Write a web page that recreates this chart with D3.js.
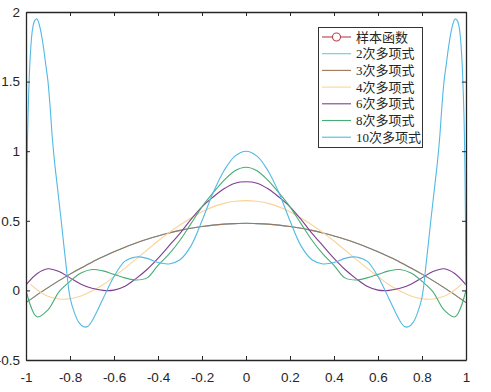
<!DOCTYPE html>
<html>
  <head>
    <meta charset="utf-8">
    <script src="https://d3js.org/d3.v7.min.js"></script>
    <style type="text/css">
      body { margin: 0; background-color: #ffffff; }
      .tick text { font-family: "Liberation Sans", "DejaVu Sans", sans-serif; font-size: 13.5px; fill: #262626; }
      .legend text { font-family: "Liberation Serif", "Noto Sans CJK SC", serif; font-size: 13px; fill: #262626; }
    </style>
  </head>
<body>
  <script type="text/javascript">
    // Values
    var xs = [-1, -0.95, -0.9, -0.85, -0.8, -0.75, -0.7, -0.65, -0.6, -0.55, -0.5,
              -0.45, -0.4, -0.35, -0.3, -0.25, -0.2, -0.15, -0.1, -0.05, 0,
              0.05, 0.1, 0.15, 0.2, 0.25, 0.3, 0.35, 0.4, 0.45, 0.5,
              0.55, 0.6, 0.65, 0.7, 0.75, 0.8, 0.85, 0.9, 0.95, 1];
    var y2 = [-0.088, -0.032, 0.02, 0.07, 0.117, 0.161, 0.203, 0.241, 0.277, 0.31, 0.34,
              0.367, 0.391, 0.412, 0.431, 0.446, 0.459, 0.469, 0.476, 0.48, 0.482,
              0.48, 0.476, 0.469, 0.459, 0.446, 0.431, 0.412, 0.391, 0.367, 0.34,
              0.31, 0.277, 0.241, 0.203, 0.161, 0.117, 0.07, 0.02, -0.032, -0.088];
    var y3 = [-0.088, -0.032, 0.02, 0.07, 0.117, 0.161, 0.203, 0.241, 0.277, 0.31, 0.34,
              0.367, 0.391, 0.412, 0.431, 0.446, 0.459, 0.469, 0.476, 0.48, 0.482,
              0.48, 0.476, 0.469, 0.459, 0.446, 0.431, 0.412, 0.391, 0.367, 0.34,
              0.31, 0.277, 0.241, 0.203, 0.161, 0.117, 0.07, 0.02, -0.032, -0.088];
    var xs4 = [-0.98, -0.95, -0.9, -0.85, -0.8, -0.75, -0.7, -0.65, -0.6, -0.55, -0.5,
               -0.45, -0.4, -0.35, -0.3, -0.25, -0.2, -0.15, -0.1, -0.05, 0,
               0.05, 0.1, 0.15, 0.2, 0.25, 0.3, 0.35, 0.4, 0.45, 0.5,
               0.55, 0.6, 0.65, 0.7, 0.75, 0.8, 0.85, 0.9, 0.95, 0.98];
    var y4 = [0.045, 0.005, -0.042, -0.062, -0.06, -0.04, -0.005, 0.04, 0.1, 0.16, 0.225,
              0.29, 0.355, 0.415, 0.47, 0.52, 0.565, 0.6, 0.625, 0.64, 0.645,
              0.64, 0.625, 0.6, 0.565, 0.52, 0.47, 0.415, 0.355, 0.29, 0.225,
              0.16, 0.1, 0.04, -0.005, -0.04, -0.06, -0.062, -0.042, 0.005, 0.045];
    var y6 = [0.04, 0.12, 0.155, 0.135, 0.09, 0.045, 0.015, 0.0, 0.002, 0.03, 0.085,
              0.15, 0.23, 0.32, 0.41, 0.51, 0.6, 0.67, 0.73, 0.77, 0.78,
              0.77, 0.73, 0.67, 0.6, 0.51, 0.41, 0.32, 0.23, 0.15, 0.085,
              0.03, 0.002, 0.0, 0.015, 0.045, 0.09, 0.135, 0.155, 0.12, 0.04];
    var y8 = [0.0, -0.19, -0.14, -0.01, 0.065, 0.125, 0.15, 0.14, 0.115, 0.09, 0.075,
              0.09, 0.18, 0.26, 0.36, 0.48, 0.6, 0.7, 0.79, 0.86, 0.885,
              0.86, 0.79, 0.7, 0.6, 0.48, 0.36, 0.26, 0.18, 0.09, 0.075,
              0.09, 0.115, 0.14, 0.15, 0.125, 0.065, -0.01, -0.14, -0.19, 0.0];
    var xs10 = [-1, -0.995, -0.99, -0.98, -0.97, -0.96, -0.95, -0.94, -0.93, -0.92, -0.91, -0.9,
                -0.89, -0.88, -0.87, -0.86, -0.85, -0.84, -0.82, -0.8, -0.78, -0.76, -0.74,
                -0.72, -0.7, -0.65, -0.6, -0.55, -0.5, -0.45, -0.4, -0.35, -0.3, -0.25,
                -0.2, -0.15, -0.1, -0.05, 0,
                0.05, 0.1, 0.15, 0.2, 0.25, 0.3, 0.35, 0.4, 0.45, 0.5, 0.55, 0.6, 0.65,
                0.7, 0.72, 0.74, 0.76, 0.78, 0.8, 0.82, 0.84, 0.85, 0.86, 0.87, 0.88, 0.89,
                0.9, 0.91, 0.92, 0.93, 0.94, 0.95, 0.96, 0.97, 0.98, 0.99, 0.995, 1];
    var y10 = [0.04, 0.9, 1.3, 1.7, 1.88, 1.94, 1.95, 1.91, 1.84, 1.74, 1.62, 1.5,
               1.31, 1.09, 0.92, 0.78, 0.64, 0.5, 0.21, -0.05, -0.16, -0.23, -0.26,
               -0.26, -0.22, -0.06, 0.1, 0.21, 0.24, 0.23, 0.2, 0.19, 0.22, 0.32,
               0.5, 0.7, 0.86, 0.965, 1.0,
               0.965, 0.86, 0.7, 0.5, 0.32, 0.22, 0.19, 0.2, 0.23, 0.24, 0.21, 0.1, -0.06,
               -0.22, -0.26, -0.26, -0.23, -0.16, -0.05, 0.21, 0.5, 0.64, 0.78, 0.92, 1.09, 1.31,
               1.5, 1.62, 1.74, 1.84, 1.91, 1.95, 1.94, 1.88, 1.7, 1.3, 0.9, 0.04];
    var xTicks = [-1, -0.8, -0.6, -0.4, -0.2, 0, 0.2, 0.4, 0.6, 0.8, 1];
    var yTicks = [-0.5, 0, 0.5, 1, 1.5, 2];
    var legendLabels = ["样本函数", "2次多项式", "3次多项式", "4次多项式", "6次多项式", "8次多项式", "10次多项式"];
    var legendColors = ["#b5404c", "#67c8ee", "#9c765a", "#fbd39a", "#7e3f91", "#47ad77", "#52b9e3"];

    var width = 491, height = 392;
    var plotLeft = 26, plotRight = 466, plotTop = 12, plotBottom = 360;

    var svg = d3.select("body")
      .append("svg")
      .attr("width", width)
      .attr("height", height);

    var x = d3.scaleLinear().domain([-1, 1]).range([plotLeft, plotRight]);
    var y = d3.scaleLinear().domain([-0.5, 2]).range([plotBottom, plotTop]);

    // tick labels with a plain hyphen as minus sign
    var fmt = function(d) { return String(d); };

    // Curves (2次 is drawn first, 3次 lies on top of it)
    var series = [
      {xs: xs, ys: y2, color: legendColors[1]},
      {xs: xs, ys: y3, color: legendColors[2]},
      {xs: xs4, ys: y4, color: legendColors[3]},
      {xs: xs, ys: y6, color: legendColors[4]},
      {xs: xs, ys: y8, color: legendColors[5]},
      {xs: xs10, ys: y10, color: legendColors[6]}
    ];

    var line = d3.line()
      .x(function(d) { return x(d[0]); })
      .y(function(d) { return y(d[1]); })
      .curve(d3.curveCatmullRom.alpha(0.5));

    svg.append("clipPath").attr("id", "plotclip")
      .append("rect")
      .attr("x", plotLeft).attr("y", plotTop)
      .attr("width", plotRight - plotLeft).attr("height", plotBottom - plotTop);

    var curves = svg.append("g").attr("clip-path", "url(#plotclip)");
    series.forEach(function(s) {
      curves.append("path")
        .datum(s.xs.map(function(v, i) { return [v, s.ys[i]]; }))
        .attr("fill", "none")
        .attr("stroke", s.color)
        .attr("stroke-width", 1.1)
        .attr("d", line);
    });

    // Axes, ticks inside on all four sides
    var axisColor = "#262626";
    svg.append("g")
      .attr("transform", "translate(0," + plotBottom + ")")
      .call(d3.axisBottom(x).tickValues(xTicks).tickSizeInner(-4).tickSizeOuter(0).tickPadding(12)
        .tickFormat(fmt));
    svg.append("g")
      .attr("transform", "translate(" + plotLeft + ",0)")
      .call(d3.axisLeft(y).tickValues(yTicks).tickSizeInner(-4).tickSizeOuter(0).tickPadding(6)
        .tickFormat(fmt));
    svg.append("g")
      .attr("transform", "translate(0," + plotTop + ")")
      .call(d3.axisTop(x).tickValues(xTicks).tickSizeInner(-4).tickSizeOuter(0).tickFormat(""));
    svg.append("g")
      .attr("transform", "translate(" + plotRight + ",0)")
      .call(d3.axisRight(y).tickValues(yTicks).tickSizeInner(-4).tickSizeOuter(0).tickFormat(""));

    svg.selectAll(".domain").attr("stroke", axisColor).attr("stroke-width", 1.3);
    svg.selectAll(".tick line").attr("stroke", axisColor);

    // Legend box
    var legend = svg.append("g").attr("class", "legend");
    legend.append("rect")
      .attr("x", 318.5).attr("y", 27.5)
      .attr("width", 104).attr("height", 120)
      .attr("fill", "#ffffff")
      .attr("stroke", "#333333")
      .attr("stroke-width", 1);

    var rows = legend.selectAll("g.row")
      .data(legendLabels)
      .enter()
      .append("g")
      .attr("class", "row")
      .attr("transform", function(d, i) { return "translate(0," + (37 + i * 16.7) + ")"; });

    rows.append("line")
      .attr("x1", 322).attr("x2", 351)
      .attr("y1", 0).attr("y2", 0)
      .attr("stroke", function(d, i) { return legendColors[i]; })
      .attr("stroke-width", 1.1);

    rows.filter(function(d, i) { return i === 0; })
      .append("circle")
      .attr("cx", 336.5).attr("cy", 0).attr("r", 4)
      .attr("fill", "#ffffff")
      .attr("stroke", legendColors[0])
      .attr("stroke-width", 1.1);

    rows.append("text")
      .attr("x", 356)
      .attr("y", 4.5)
      .text(function(d) { return d; });
  </script>
</body>
</html>
